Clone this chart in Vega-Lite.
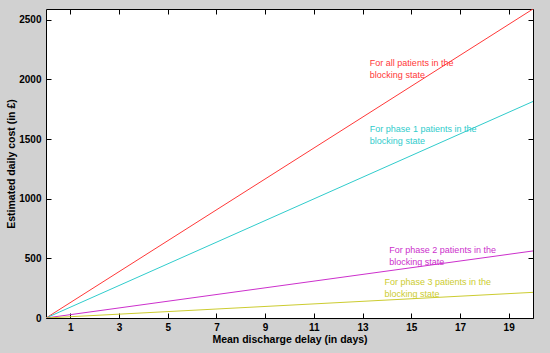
{
  "$schema": "https://vega.github.io/schema/vega-lite/v6.json",
  "width": 487,
  "height": 309,
  "autosize": {"type": "none"},
  "padding": {"left": 46, "top": 9, "right": 17, "bottom": 35},
  "background": "#d1d1d1",
  "config": {
    "font": "Liberation Sans",
    "view": {"stroke": "black", "strokeWidth": 1, "fill": "white"},
    "axis": {"grid": false, "domainColor": "black", "tickColor": "black", "labelColor": "black", "titleColor": "black", "labelFont": "Liberation Sans", "titleFont": "Liberation Sans", "labelFontWeight": "bold", "titleFontWeight": "bold", "labelFontSize": 10, "titleFontSize": 10.5}
  },
  "datasets": {
    "lines": [
      {"delay": 0, "cost": 0, "series": "all"},
      {"delay": 20, "cost": 2590, "series": "all"},
      {"delay": 0, "cost": 0, "series": "phase1"},
      {"delay": 20, "cost": 1815, "series": "phase1"},
      {"delay": 0, "cost": 0, "series": "phase2"},
      {"delay": 20, "cost": 562, "series": "phase2"},
      {"delay": 0, "cost": 0, "series": "phase3"},
      {"delay": 20, "cost": 215, "series": "phase3"}
    ],
    "labels": [
      {"delay": 13.3, "cost": 2170, "series": "all", "text": "For all patients in the\nblocking state"},
      {"delay": 13.3, "cost": 1620, "series": "phase1", "text": "For phase 1 patients in the\nblocking state"},
      {"delay": 14.1, "cost": 600, "series": "phase2", "text": "For phase 2 patients in the\nblocking state"},
      {"delay": 13.9, "cost": 335, "series": "phase3", "text": "For phase 3 patients in the\nblocking state"}
    ]
  },
  "layer": [
    {
      "data": {"name": "lines"},
      "mark": {"type": "line", "strokeWidth": 1, "clip": true},
      "encoding": {
        "x": {"field": "delay", "type": "quantitative", "scale": {"domain": [0, 20], "nice": false}, "axis": {"orient": "bottom", "values": [1, 3, 5, 7, 9, 11, 13, 15, 17, 19], "title": "Mean discharge delay (in days)", "tickSize": -5, "labelPadding": 9, "titlePadding": 2, "domain": false}},
        "y": {"field": "cost", "type": "quantitative", "scale": {"domain": [0, 2590], "nice": false, "zero": true}, "axis": {"orient": "left", "values": [0, 500, 1000, 1500, 2000, 2500], "format": "d", "title": "Estimated daily cost (in £)", "tickSize": -5, "labelPadding": 10, "titlePadding": 2, "domain": false}},
        "color": {"field": "series", "type": "nominal", "scale": {"domain": ["all", "phase1", "phase2", "phase3"], "range": ["#ff3838", "#30cccc", "#cc30cc", "#cccc30"]}, "legend": null},
        "detail": {"field": "series"}
      }
    },
    {
      "data": {"name": "labels"},
      "mark": {"type": "text", "align": "left", "baseline": "top", "fontSize": 9, "lineHeight": 12, "lineBreak": "\n", "font": "Liberation Sans"},
      "encoding": {
        "x": {"field": "delay", "type": "quantitative", "axis": {"orient": "top", "values": [1, 3, 5, 7, 9, 11, 13, 15, 17, 19], "labels": false, "title": null, "tickSize": -5, "domain": false}},
        "y": {"field": "cost", "type": "quantitative", "axis": {"orient": "right", "values": [0, 500, 1000, 1500, 2000, 2500], "labels": false, "title": null, "tickSize": -5, "domain": false}},
        "text": {"field": "text"},
        "color": {"field": "series", "type": "nominal", "legend": null}
      }
    }
  ]
}
